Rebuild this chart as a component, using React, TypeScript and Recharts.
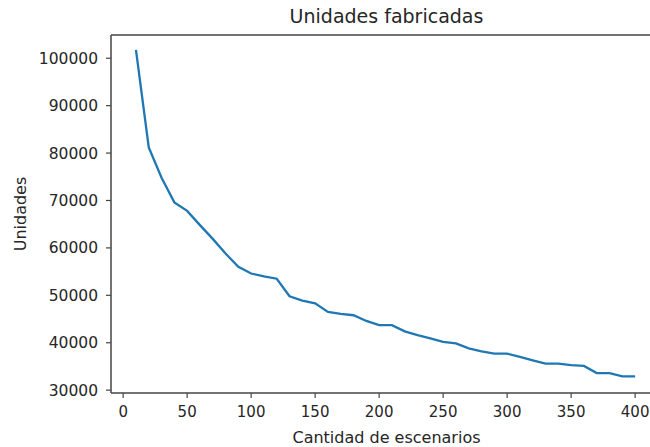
import React from 'react';
import { LineChart, Line, XAxis, YAxis, ReferenceLine } from 'recharts';

// cantidad de escenarios simulados
const escenarios = [
  10, 20, 30, 40, 50, 60, 70, 80, 90, 100,
  110, 120, 130, 140, 150, 160, 170, 180, 190, 200,
  210, 220, 230, 240, 250, 260, 270, 280, 290, 300,
  310, 320, 330, 340, 350, 360, 370, 380, 390, 400,
];

// unidades fabricadas para cada cantidad de escenarios
const unidades = [
  101750, 81200, 74800, 69600, 67800, 64800, 61900, 58800, 56000, 54600,
  54000, 53500, 49800, 48900, 48300, 46500, 46100, 45800, 44600, 43700,
  43700, 42400, 41600, 40900, 40200, 39850, 38800, 38200, 37700, 37700,
  37000, 36300, 35600, 35600, 35300, 35100, 33600, 33600, 32900, 32900,
];

const xTicks = [0, 50, 100, 150, 200, 250, 300, 350, 400];
const yTicks = [30000, 40000, 50000, 60000, 70000, 80000, 90000, 100000];

const X_DOMAIN: [number, number] = [-9.5, 421];
const Y_DOMAIN: [number, number] = [29400, 104900];

const data = escenarios.map((x, i) => ({ x, unidades: unidades[i] }));

const FONT = '"DejaVu Sans", sans-serif';
const TEXT = '#262626';
const SPINE = '#444';

export default function App() {
  return (
    <div
      style={{
        position: 'absolute',
        left: 0,
        top: 0,
        width: 650,
        height: 447,
        overflow: 'hidden',
        background: '#fff',
        fontFamily: FONT,
      }}
    >
      <div
        style={{
          position: 'absolute',
          left: 111,
          top: 5,
          width: 551,
          textAlign: 'center',
          fontSize: 19,
          color: TEXT,
        }}
      >
        Unidades fabricadas
      </div>
      <LineChart
        width={662}
        height={447}
        data={data}
        margin={{ top: 35, right: 0, bottom: 0, left: 0 }}
        style={{ position: 'absolute', left: 0, top: 0 }}
      >
        <XAxis
          dataKey="x"
          type="number"
          domain={X_DOMAIN}
          ticks={xTicks}
          height={54}
          tickSize={5}
          tickMargin={8}
          axisLine={{ stroke: SPINE, strokeWidth: 1.5 }}
          tickLine={{ stroke: SPINE, strokeWidth: 1.2 }}
          tick={{ fontSize: 15, fill: TEXT, fontFamily: FONT }}
          allowDataOverflow
          label={{
            value: 'Cantidad de escenarios',
            position: 'insideBottom',
            offset: 4,
            fontSize: 16,
            fill: TEXT,
            fontFamily: FONT,
          }}
        />
        <YAxis
          type="number"
          domain={Y_DOMAIN}
          ticks={yTicks}
          width={111}
          tickSize={5}
          tickMargin={8}
          axisLine={{ stroke: SPINE, strokeWidth: 1.5 }}
          tickLine={{ stroke: SPINE, strokeWidth: 1.2 }}
          tick={{ fontSize: 15.5, fill: TEXT, fontFamily: FONT }}
          allowDataOverflow
          label={{
            value: 'Unidades',
            angle: -90,
            position: 'insideLeft',
            offset: 20,
            fontSize: 16,
            fill: TEXT,
            fontFamily: FONT,
            style: { textAnchor: 'middle' },
          }}
        />
        {/* marco superior del área de trazado */}
        <ReferenceLine y={Y_DOMAIN[1]} stroke={SPINE} strokeWidth={1.5} />
        <Line
          type="linear"
          dataKey="unidades"
          stroke="#1f77b4"
          strokeWidth={2.3}
          dot={false}
          activeDot={false}
          isAnimationActive={false}
        />
      </LineChart>
    </div>
  );
}
